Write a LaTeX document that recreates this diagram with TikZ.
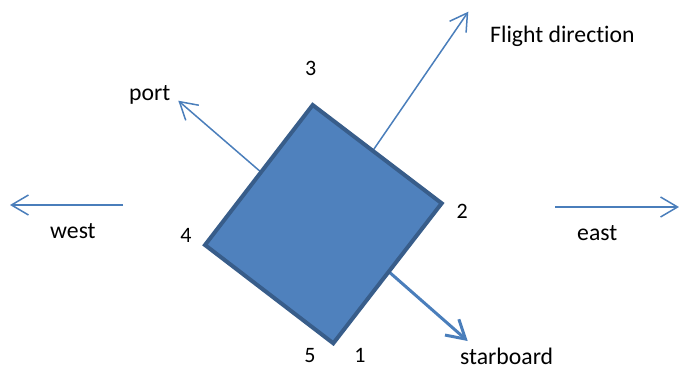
\documentclass[tikz,border=0pt]{standalone}
\usepackage{fontspec}
\setmainfont{Carlito}[Ligatures={NoCommon}]
\usetikzlibrary{arrows.meta}
\definecolor{arrowblue}{HTML}{4A7EBB}
\definecolor{boxfill}{HTML}{4F81BD}
\definecolor{boxline}{HTML}{385D8A}
\tikzset{
  thinarrow/.style={draw=arrowblue, line width=1.5pt, -{Straight Barb[length=17pt,width=20pt]}},
  thickarrow/.style={draw=arrowblue, line width=3pt, -{Straight Barb[length=18pt,width=21pt]}},
  lbl/.style={font=\fontsize{23.7pt}{28pt}\selectfont, inner sep=0pt, anchor=base west, text=black},
  num/.style={font=\fontsize{22pt}{26pt}\selectfont, inner sep=0pt, anchor=base, text=black},
}
\begin{document}
\begin{tikzpicture}[x=1pt,y=-1pt]
\useasboundingbox (0,0) rectangle (679,369);
% arrows behind the box
\coordinate (flightstart) at (373.3,150);
\coordinate (flighttip) at (468.3,11.7);
\coordinate (portstart) at (262,173);
\coordinate (porttip) at (178.3,100.7);
\coordinate (starstart) at (388,271);
\coordinate (startip) at (467.7,341);
\coordinate (weststart) at (123,205);
\coordinate (westtip) at (10,205);
\coordinate (eaststart) at (555,207);
\coordinate (easttip) at (679,207);
\draw[thinarrow] (flightstart) -- (flighttip);
\draw[thinarrow] (portstart) -- (porttip);
\draw[thickarrow] (starstart) -- (startip);
\draw[thinarrow] (weststart) -- (westtip);
\draw[thinarrow] (eaststart) -- (easttip);
% the box
\coordinate (ctop) at (312.7,105);
\coordinate (cright) at (441.7,203.3);
\coordinate (cbottom) at (333.3,343.3);
\coordinate (cleft) at (205,245);
\draw[fill=boxfill, draw=boxline, line width=4pt, line join=miter] (ctop) -- (cright) -- (cbottom) -- (cleft) -- cycle;
% labels
\node[lbl] (flight) at (490,43) {Flight direction};
\node[lbl] (port) at (129,100.5) {port};
\node[lbl] (west) at (50,238) {west};
\node[lbl] (east) at (577,240) {east};
\node[lbl] (starboard) at (460,364.5) {starboard};
\node[num] (n3) at (310.7,75) {3};
\node[num] (n4) at (186,242) {4};
\node[num] (n2) at (462.3,218) {2};
\node[num] (n5) at (310,362) {5};
\node[num] (n1) at (360,362) {1};
\end{tikzpicture}
\end{document}
